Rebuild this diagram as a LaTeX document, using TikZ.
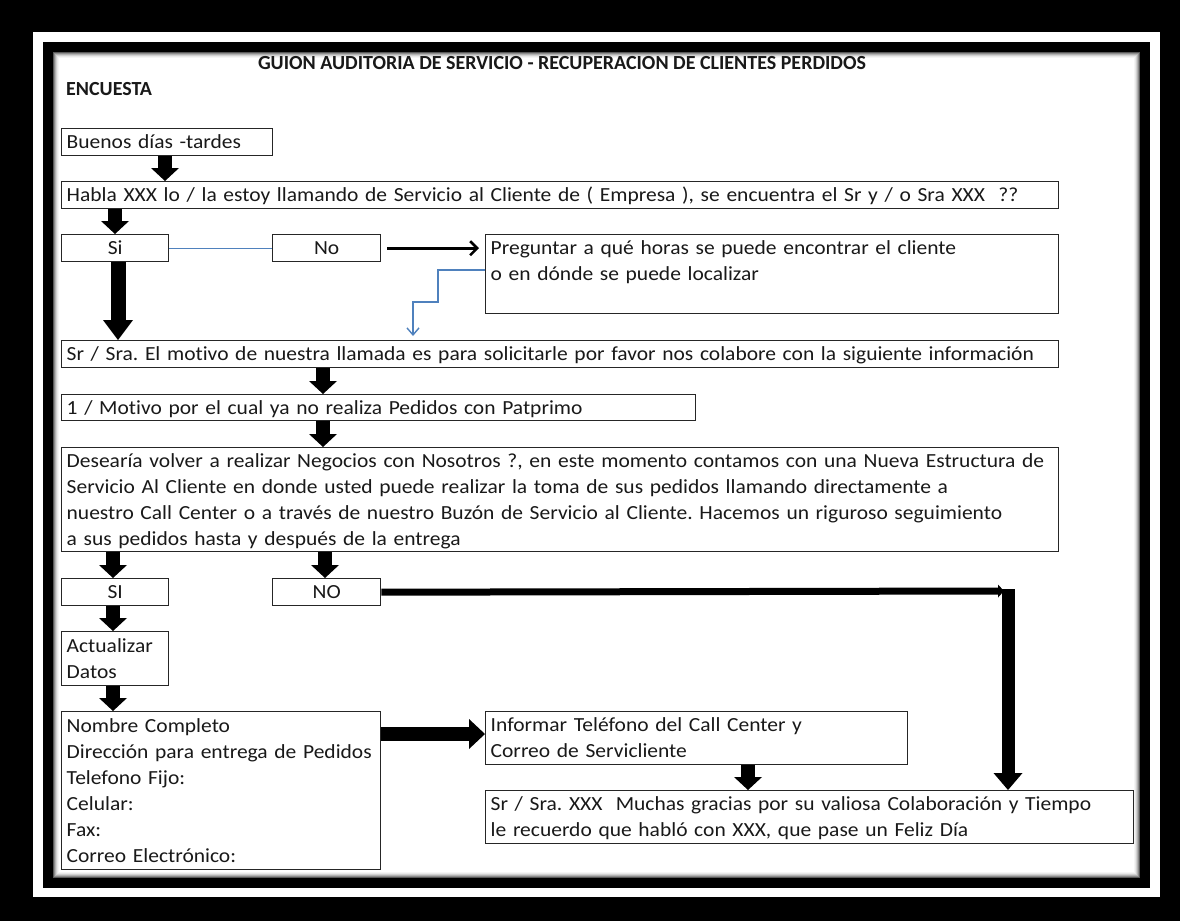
\documentclass[tikz,border=0pt]{standalone}
\usepackage{fontspec}
\setmainfont{Carlito}[FakeStretch=1.075, RawFeature={-liga}]
\newfontfamily\headfont{Carlito}
\usetikzlibrary{arrows.meta,calc}
\definecolor{officeblue}{RGB}{79,129,189}
\newcommand\bodyfont{\fontsize{20}{26}\selectfont\frenchspacing}
\newcommand\lnst{\rule[-6.7pt]{0pt}{26pt}}
\tikzset{
  box/.style={draw=black!85, line width=1.4pt, anchor=north west, align=left,
    inner xsep=5pt, inner ysep=0pt, font=\bodyfont, text=black!90},
  cbox/.style={box, align=center},
  blk/.style={line width=14pt, black, -{Triangle[width=28pt,length=13pt,line width=0pt]}},
  bigblk/.style={line width=15pt, black, -{Triangle[width=30pt,length=20pt,line width=0pt]}},
  thinblk/.style={line width=3pt, black, -{Straight Barb[length=7pt,width=14pt,line width=2.6pt]}},
  blueln/.style={line width=1.4pt, draw=officeblue},
  heading/.style={font=\headfont\fontsize{20}{26}\selectfont\bfseries, text=black!90, inner sep=0pt}
}
\begin{document}
\begin{tikzpicture}[x=1pt,y=-1pt]
% frame
\fill[black] (0,0) rectangle (1180,921);
\fill[white] (33,32) rectangle (1160,897);
\fill[black] (43,42) rectangle (1150,888);
\fill[white] (53,52) rectangle (1140,878);
\foreach \i/\c in {0/65,1/45,2/30,3/18,4/9,5/4}{
  \draw[black!\c, line width=1pt] ($(53,52)+(\i+0.5,\i+0.5)$) rectangle ($(1140,878)-(\i+0.5,\i+0.5)$);
}
\useasboundingbox (0,0) rectangle (1180,921);

% headings
\node[heading] (title) at (562,63) {GUION AUDITORIA DE SERVICIO - RECUPERACION DE CLIENTES PERDIDOS};
\node[heading, anchor=west] (encuesta) at (66,89) {ENCUESTA};

% boxes
\node[box, text width=201pt, minimum height=27pt] (buenos) at (61,128) {\lnst Buenos días -tardes};
\node[box, text width=987pt, minimum height=27pt] (habla) at (61,181) {\lnst Habla XXX lo / la estoy llamando de Servicio al Cliente de ( Empresa ), se encuentra el Sr y / o Sra XXX~ ??};
\node[cbox, text width=97pt, minimum height=27pt] (si1) at (61,234) {\lnst Si};
\node[cbox, text width=98pt, minimum height=27pt] (no1) at (272,234) {\lnst No};
\node[box, text width=563pt, minimum height=79pt] (preg) at (485,234) {\lnst Preguntar a qué horas se puede encontrar el cliente\\\lnst o en dónde se puede localizar\\\lnst};
\node[box, text width=987pt, minimum height=27pt] (srsra) at (61,340) {\lnst Sr / Sra. El motivo de nuestra llamada es para solicitarle por favor nos colabore con la siguiente información};
\node[box, text width=624pt, minimum height=26pt] (motivo) at (61,394) {\lnst 1 / Motivo por el cual ya no realiza Pedidos con Patprimo};
\node[box, text width=987pt, minimum height=104pt] (desea) at (61,447) {\lnst Desearía volver a realizar Negocios con Nosotros ?, en este momento contamos con una Nueva Estructura de\\\lnst Servicio Al Cliente en donde usted puede realizar la toma de sus pedidos llamando directamente a\\\lnst nuestro Call Center o a través de nuestro Buzón de Servicio al Cliente. Hacemos un riguroso seguimiento\\\lnst a sus pedidos hasta y después de la entrega};
\node[cbox, text width=97pt, minimum height=27pt] (si2) at (61,578) {\lnst SI};
\node[cbox, text width=98pt, minimum height=27pt] (no2) at (272,578) {\lnst NO};
\node[box, text width=97pt, minimum height=54pt] (actual) at (61,631) {\lnst Actualizar\\\lnst Datos};
\node[box, text width=309pt, minimum height=158pt] (nombre) at (61,711) {\lnst Nombre Completo\\\lnst Dirección para entrega de Pedidos\\\lnst Telefono Fijo:\\\lnst Celular:\\\lnst Fax:\\\lnst Correo Electrónico:};
\node[box, text width=412pt, minimum height=53pt] (inform) at (485,711) {\lnst Informar Teléfono del Call Center y\\\lnst Correo de Servicliente};
\node[box, text width=638pt, minimum height=53pt] (gracias) at (485,790) {\lnst Sr / Sra. XXX~ Muchas gracias por su valiosa Colaboración y Tiempo\\\lnst le recuerdo que habló con XXX, que pase un Feliz Día};

% free ends
\coordinate (bluetip) at (413,336);
\coordinate (noend) at (1004,591);
\coordinate (downtop) at (1008,589);

% connectors
\draw[blk] ([xshift=104pt]buenos.south west) -- ([xshift=104pt]habla.north west);
\draw[blk] ([xshift=54pt]habla.south west) -- ([xshift=54pt]si1.north west);
\draw[blueln] (si1.east) -- (no1.east -| no1.west);
\draw[thinblk] ([xshift=6pt]no1.east) -- ([xshift=-6pt]no1.east -| preg.west);
\draw[blueln, -{Straight Barb[length=7pt,width=12pt]}] ([yshift=-36pt]preg.north west) -- ++(-47,0) -- ++(0,32) -- ++(-25,0) -- (bluetip);
\draw[bigblk] ([xshift=57pt]si1.south west) -- ([xshift=57pt]srsra.north west);
\draw[blk] ([xshift=262pt]srsra.south west) -- ([xshift=262pt]motivo.north west);
\draw[blk] ([xshift=262pt]motivo.south west) -- ([xshift=262pt]desea.north west);
\draw[blk] ([xshift=52pt]desea.south west) -- ([xshift=52pt]si2.north west);
\draw[blk] ([xshift=264pt]desea.south west) -- ([xshift=53pt]no2.north west);
\draw[blk] ([xshift=52pt]si2.south west) -- ([xshift=52pt]actual.north west);
\draw[blk] ([xshift=52pt]actual.south west) -- ([xshift=52pt]nombre.north west);
\draw[line width=14pt, black, -{Triangle[width=30pt,length=16pt,line width=0pt]}] ([yshift=-23pt]nombre.north east) -- ([yshift=-23pt]inform.north west);
\draw[blk] ([xshift=263pt]inform.south west) -- ([xshift=263pt]gracias.north west);
\draw[line width=7pt, black, -{Triangle[width=13pt,length=6pt,line width=0pt]}] (no2.east) -- (noend);
\draw[line width=13pt, black, -{Triangle[width=29pt,length=17pt,line width=0pt]}] (downtop) -- (downtop |- gracias.north);
\end{tikzpicture}
\end{document}
